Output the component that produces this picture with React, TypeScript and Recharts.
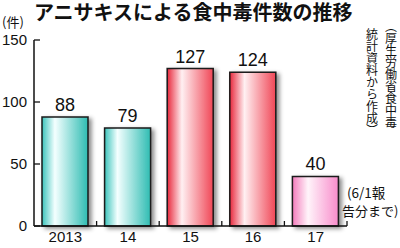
import React from "react";
import { BarChart, Bar, XAxis, YAxis, Cell, LabelList } from "recharts";

const years = ["2013", "14", "15", "16", "17"];
const cases = [88, 79, 127, 124, 40];
const yTicks = [0, 50, 100, 150];

const title = "アニサキスによる食中毒件数の推移";
const unitLabel = "(件)";
const sourceCol1 = "（厚生労働省食中毒";
const sourceCol2 = "統計資料から作成）";
const noteLine1 = "(6/1報";
const noteLine2 = "告分まで)";

const data = years.map((y, i) => ({ year: y, cases: cases[i] }));

const gradIds = ["gCyan", "gCyan", "gRed", "gRed", "gPink"];

const W = 400;
const H = 248;
const LEFT = 34;
const RIGHT = 347;
const TOP = 40;
const BOTTOM = 226;
const BAND = (RIGHT - LEFT) / years.length;
const NUM_FONT = "'Liberation Sans', Arial, sans-serif";
const JP_FONT = "'Noto Sans CJK JP', sans-serif";

const XTick = (props: any) => {
  const { x, y, payload } = props;
  return (
    <g>
      <line x1={x + BAND / 2} y1={y} x2={x + BAND / 2} y2={y - 5} stroke="#111" strokeWidth={1.3} />
      <text x={x} y={y + 16} textAnchor="middle" fontSize={15} fontFamily={NUM_FONT} fill="#111">
        {payload.value}
      </text>
    </g>
  );
};

const YTick = (props: any) => {
  const { x, y, payload } = props;
  return (
    <g>
      <line x1={x} y1={y} x2={x + 6} y2={y} stroke="#111" strokeWidth={1.3} />
      <text x={x - 7} y={y + 5} textAnchor="end" fontSize={15} fontFamily={NUM_FONT} fill="#111">
        {payload.value}
      </text>
    </g>
  );
};

export default function App() {
  return (
    <div style={{ position: "absolute", left: 0, top: 0, width: W, height: H, background: "#fff" }}>
      <BarChart
        width={W}
        height={H}
        data={data}
        margin={{ top: TOP, right: W - RIGHT, bottom: 0, left: 0 }}
        barSize={46}
      >
        <defs>
          <linearGradient id="gCyan" x1="0" y1="0" x2="1" y2="0">
            <stop offset="0%" stopColor="#3cc4bc" />
            <stop offset="28%" stopColor="#f4ffff" />
            <stop offset="100%" stopColor="#2ebcb2" />
          </linearGradient>
          <linearGradient id="gRed" x1="0" y1="0" x2="1" y2="0">
            <stop offset="0%" stopColor="#e8283c" />
            <stop offset="32%" stopColor="#fff0f2" />
            <stop offset="100%" stopColor="#f04656" />
          </linearGradient>
          <linearGradient id="gPink" x1="0" y1="0" x2="1" y2="0">
            <stop offset="0%" stopColor="#f37cbc" />
            <stop offset="34%" stopColor="#fff4fa" />
            <stop offset="100%" stopColor="#f88ccb" />
          </linearGradient>
          <filter id="shadow" x="-20%" y="-20%" width="150%" height="150%">
            <feDropShadow dx="3" dy="2" stdDeviation="2" floodColor="#000" floodOpacity="0.45" />
          </filter>
        </defs>
        <XAxis
          dataKey="year"
          height={H - BOTTOM}
          tickLine={false}
          tickSize={0}
          tickMargin={0}
          axisLine={{ stroke: "#111", strokeWidth: 1.5 }}
          tick={<XTick />}
          interval={0}
        />
        <YAxis
          width={LEFT}
          domain={[0, 150]}
          ticks={yTicks}
          tickLine={false}
          tickSize={0}
          tickMargin={0}
          axisLine={{ stroke: "#111", strokeWidth: 1.5 }}
          tick={<YTick />}
          interval={0}
        />
        <Bar dataKey="cases" isAnimationActive={false} stroke="#1a1a1a" strokeWidth={1.5} filter="url(#shadow)">
          {data.map((d, i) => (
            <Cell key={d.year} fill={`url(#${gradIds[i]})`} />
          ))}
          <LabelList
            dataKey="cases"
            position="top"
            offset={6}
            fontSize={18}
            fontFamily={NUM_FONT}
            fill="#111"
          />
        </Bar>
      </BarChart>
      <svg width={W} height={H} style={{ position: "absolute", left: 0, top: 0, pointerEvents: "none" }}>
        <text x={34} y={20} fontSize={20} fontWeight={700} fontFamily={JP_FONT} fill="#111">
          {title}
        </text>
        <text x={2} y={27} fontSize={13} fontFamily={JP_FONT} fill="#111">
          {unitLabel}
        </text>
        <text x={391} y={20} fontSize={12} fontFamily={JP_FONT} fill="#111" style={{ writingMode: "vertical-rl" as any }}>
          {sourceCol1}
        </text>
        <text x={372} y={28} fontSize={12} fontFamily={JP_FONT} fill="#111" style={{ writingMode: "vertical-rl" as any }}>
          {sourceCol2}
        </text>
        <text x={347} y={198} fontSize={13.5} fontFamily={JP_FONT} fill="#111">
          {noteLine1}
        </text>
        <text x={342} y={216} fontSize={13} fontFamily={JP_FONT} fill="#111">
          {noteLine2}
        </text>
      </svg>
    </div>
  );
}
